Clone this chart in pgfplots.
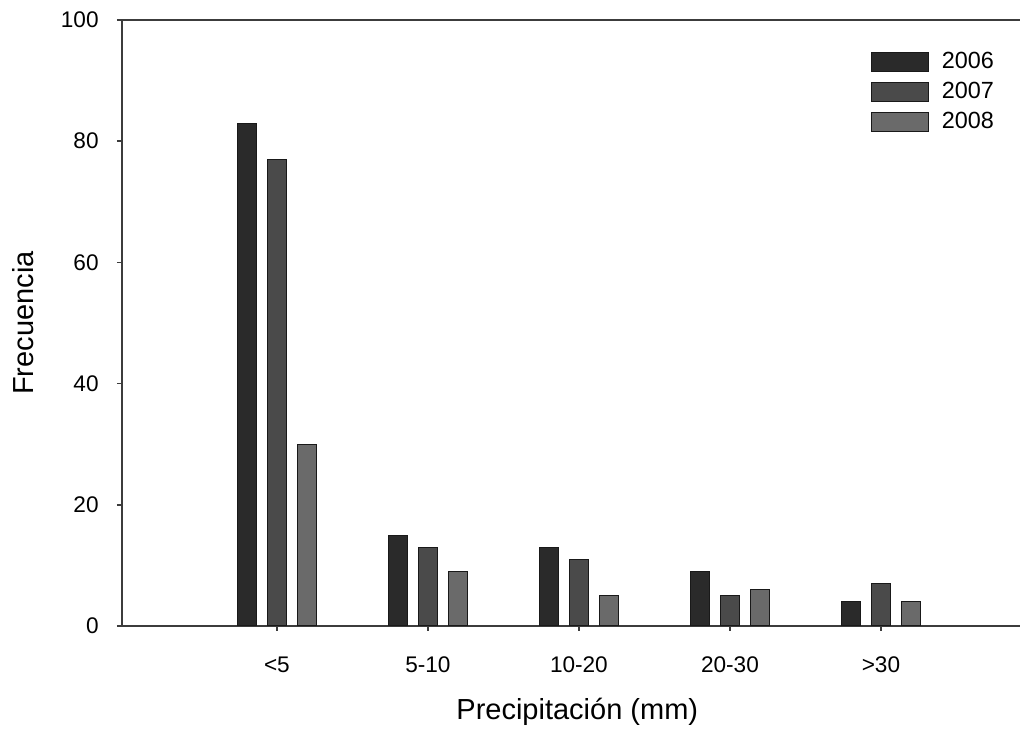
\documentclass[border=0pt]{standalone}
\usepackage{fontspec}
\setmainfont{Liberation Sans}
\usepackage{pgfplots}
\pgfplotsset{compat=1.18}
\definecolor{cA}{HTML}{2A2A2A}
\definecolor{cB}{HTML}{4A4A4A}
\definecolor{cC}{HTML}{6A6A6A}
\definecolor{axc}{HTML}{3C3C3C}
\begin{document}
\begin{tikzpicture}
\begin{axis}[
  scale only axis,
  width=449pt, height=303pt,
  xmin=-1.026, xmax=4.921,
  ymin=0, ymax=100,
  axis x line*=box, axis y line*=left,
  axis line style={axc, line width=0.75pt},
  every tick/.style={axc, line width=0.75pt},
  tick align=outside,
  major tick length=2.5pt,
  xtick={0,1,2,3,4},
  xticklabels={<5,5-10,10-20,20-30,>30},
  xtick pos=left, ytick pos=left,
  ytick={0,20,40,60,80,100},
  /pgf/number format/assume math mode=true,
  tick label style={font=\fontsize{11.3pt}{13pt}\selectfont},
  xticklabel style={anchor=base, inner sep=0pt, yshift=-21pt},
  yticklabel style={anchor=east, inner sep=0pt, xshift=-9pt},
  every axis x label/.style={at={(axis description cs:0.507,-0.1551)}, anchor=base, font=\fontsize{14.5pt}{16pt}\selectfont},
  every axis y label/.style={at={(axis description cs:-0.0991,0.5)}, rotate=90, anchor=base, font=\fontsize{14.5pt}{16pt}\selectfont},
  xlabel={Precipitación (mm)},
  ylabel={Frecuencia},
  ybar=5.5pt, bar width=9.5pt,
  legend image code/.code={\draw[#1,draw=black!90] (0pt,-1.2pt) rectangle (28.5pt,8pt); \path[draw=none,fill=none] (0pt,0pt) rectangle (35pt,0.1pt);},
  legend style={draw=none, fill=none, at={(axis description cs:0.834,0.956)}, anchor=north west,
    font=\fontsize{11.7pt}{13pt}\selectfont, inner sep=0pt, row sep=0pt,
    nodes={inner sep=0pt, minimum height=15pt, anchor=base west}},
  legend cell align=left,
]
\coordinate (bl) at (rel axis cs:0,0);
\coordinate (tr) at (rel axis cs:1,1);
\addplot[fill=cA, draw=black!90, line width=0.5pt] coordinates {(0,83) (1,15) (2,13) (3,9) (4,4)};
\addplot[fill=cB, draw=black!90, line width=0.5pt] coordinates {(0,77) (1,13) (2,11) (3,5) (4,7)};
\addplot[fill=cC, draw=black!90, line width=0.5pt] coordinates {(0,30) (1,9) (2,5) (3,6) (4,4)};
\legend{2006,2007,2008}
\end{axis}
\pgfresetboundingbox
\path ([xshift=-61pt,yshift=-51.5pt]bl) rectangle ([yshift=10pt]tr);
\end{tikzpicture}
\end{document}
